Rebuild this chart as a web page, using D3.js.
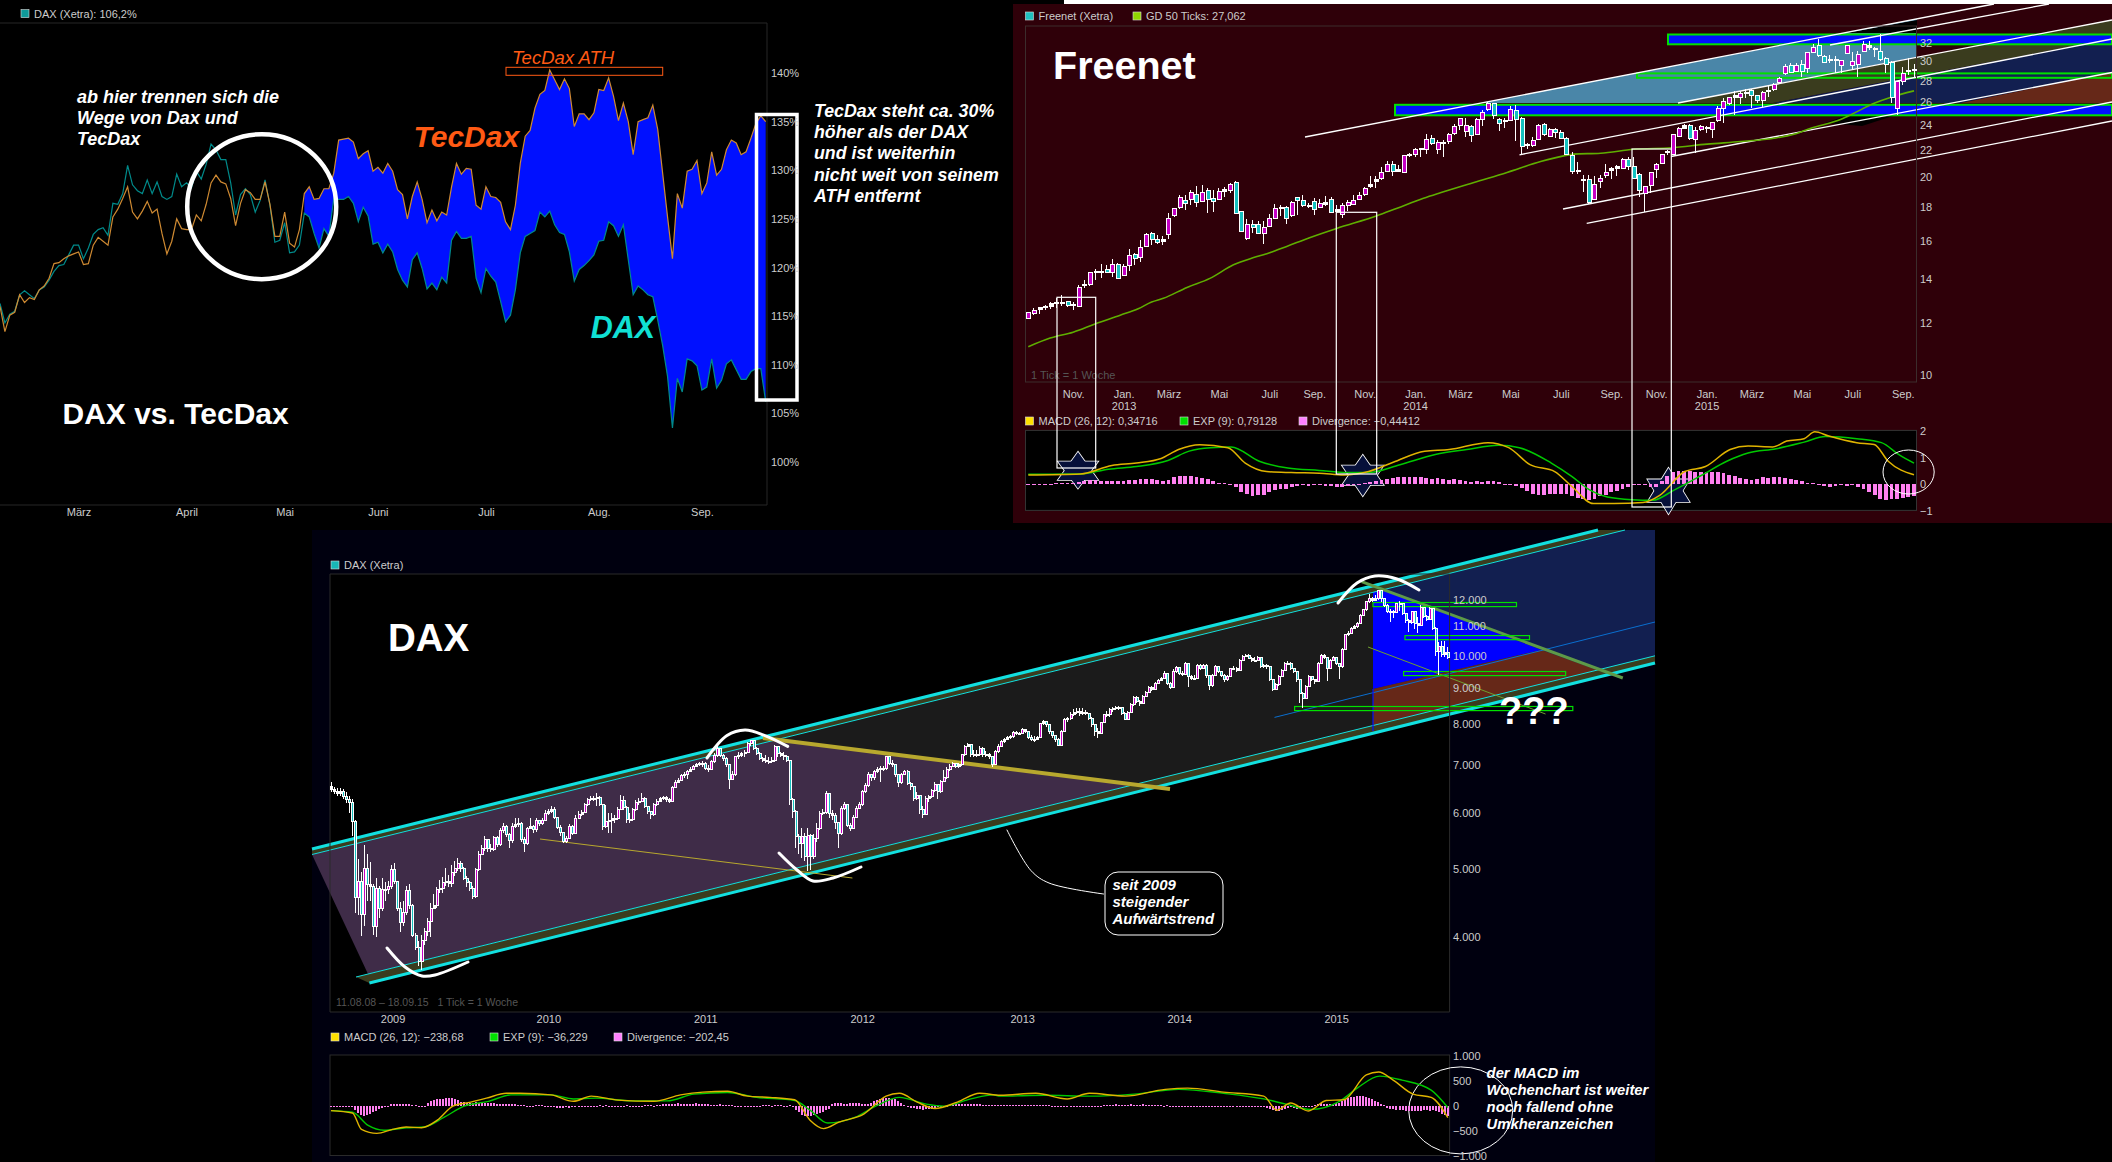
<!DOCTYPE html>
<html><head><meta charset="utf-8">
<style>html,body{margin:0;padding:0;background:#000;overflow:hidden}svg{display:block}text{font-family:"Liberation Sans",Arial,sans-serif;white-space:pre}</style>
<script src="https://d3js.org/d3.v7.min.js"></script></head><body><script>
// ---------- DAX vs TecDax (percent, daily) ----------
const tecdaxPct=[116.0,113.4,115.1,115.4,117.2,116.4,116.9,116.7,117.7,118.1,118.9,120.4,120.5,120.9,121.2,121.4,121.6,120.3,120.4,122.3,123.1,122.7,122.3,125.2,126.0,127.1,128.3,125.7,125.0,125.8,126.8,125.6,126.0,123.5,121.4,122.7,125.0,124.0,123.9,123.9,125.4,124.8,126.5,128.7,129.5,128.8,128.6,127.1,124.3,126.6,128.0,127.7,127.0,127.0,128.8,126.5,123.2,123.2,125.7,122.5,122.1,123.9,127.6,128.3,127.0,127.1,128.1,128.1,129.7,133.1,133.2,133.3,132.9,131.2,131.7,132.0,129.9,130.3,
129.7,130.7,129.9,128.0,127.5,125.0,127.3,128.8,127.0,124.6,125.9,124.8,125.7,125.4,128.3,130.7,129.6,130.2,130.1,126.4,126.0,128.3,127.3,127.2,126.7,124.7,123.9,126.4,130.7,133.5,134.1,136.4,137.8,138.2,140.3,139.3,138.3,139.4,138.4,134.5,135.8,135.8,135.2,135.9,138.3,138.2,139.5,137.6,135.1,136.9,135.0,131.6,135.0,135.2,135.4,136.7,134.2,129.7,125.2,120.9,127.6,126.1,129.9,130.1,131.0,127.6,128.7,131.9,129.5,130.1,132.1,133.1,132.8,131.6,131.9,133.3,134.8,135.6,135.0];
const daxPct=[116.3,114.3,115.2,115.5,117.2,117.6,117.2,116.8,117.7,118.0,118.7,119.6,120.2,120.3,121.3,122.3,122.3,120.9,122.0,123.4,123.9,124.1,123.3,126.6,126.5,127.6,130.5,128.5,127.9,127.6,129.0,127.6,128.8,127.3,127.0,127.3,129.6,128.3,128.7,128.2,129.9,129.1,130.6,132.7,132.1,131.1,131.1,128.7,125.4,127.5,128.1,127.5,125.7,126.9,129.0,126.4,122.6,122.8,124.6,121.5,121.6,122.3,125.6,125.2,123.5,122.0,124.0,123.2,127.1,127.0,127.0,127.3,126.6,124.7,126.2,125.3,122.4,122.6,
121.5,122.4,121.6,119.8,118.7,118.0,120.8,121.5,119.9,117.8,118.4,117.7,119.0,118.4,122.8,123.7,123.0,123.0,123.2,118.9,117.4,119.9,119.1,118.5,116.5,114.4,115.1,117.7,121.5,123.2,123.5,123.8,125.7,125.2,125.8,124.4,123.6,123.4,121.6,118.6,119.8,120.2,120.7,121.3,122.7,122.8,124.7,124.3,123.2,124.4,120.8,117.2,118.1,117.7,117.2,117.0,114.6,112.0,108.8,103.5,108.6,107.2,110.6,110.4,109.9,107.4,107.7,110.6,107.6,108.4,110.1,110.5,109.5,108.5,108.5,109.3,109.6,109.6,106.2];
const pctTicks=[100,105,110,115,120,125,130,135,140];
const pctMonthIdx=[16,38,58,77,99,122,143];
const pctMonths=["März","April","Mai","Juni","Juli","Aug.","Sep."];

// ---------- Freenet weekly candles ----------
const frOpen=[12.21,12.39,12.56,12.67,12.73,12.86,12.86,12.94,12.76,12.73,13.68,13.75,14.32,14.36,14.49,14.32,14.75,14.19,14.69,15.27,15.11,15.71,16.44,16.08,15.98,16.38,17.51,18.00,18.45,18.51,18.83,18.38,19.07,18.57,18.51,19.02,19.09,19.63,17.73,16.15,16.94,16.94,16.40,16.83,17.33,17.96,18.00,17.47,18.62,18.43,18.06,18.38,18.00,18.18,18.51,17.76,17.55,18.11,18.18,18.51,18.85,19.35,19.70,19.93,20.43,20.93,20.55,20.36,21.60,21.68,22.05,22.05,22.90,22.00,22.50,
22.66,23.27,23.95,23.46,23.87,23.22,24.50,25.32,25.85,24.45,24.40,24.40,25.29,24.60,22.34,22.37,22.84,24.04,23.08,23.65,23.41,22.92,21.58,20.45,19.80,19.86,18.51,19.72,20.14,20.50,20.60,20.64,21.30,20.76,20.21,18.89,19.42,20.52,21.00,21.85,21.68,23.05,23.74,23.98,22.84,23.65,23.70,23.60,24.36,25.47,25.91,26.46,26.46,26.86,27.08,26.65,26.12,27.05,27.15,27.84,28.76,29.56,29.00,29.70,29.28,30.96,31.70,30.50,30.10,30.10,29.55,30.85,29.55,29.70,31.03,31.70,31.27,31.03,30.30,29.90,25.40,28.00,29.00,29.07];
const frClose=[12.43,12.55,12.67,12.71,12.84,12.89,12.89,12.77,12.79,13.60,13.71,14.32,14.36,14.39,14.34,14.75,14.03,14.64,15.22,15.05,15.65,16.38,16.10,15.93,16.10,17.33,17.94,18.64,18.26,18.96,18.29,18.94,18.51,18.38,19.02,19.16,19.47,17.63,16.56,16.94,16.78,16.42,16.75,17.31,17.92,18.00,17.33,18.32,18.43,18.11,18.12,17.86,18.22,18.29,17.69,17.86,18.12,18.29,18.43,18.77,19.23,19.51,19.86,20.36,20.90,20.40,20.40,21.58,21.65,22.05,22.08,22.84,22.53,22.58,22.55,
23.19,23.92,24.53,23.95,23.14,24.50,25.12,25.85,24.80,24.15,24.27,25.32,24.50,22.26,22.40,22.76,23.95,23.19,23.65,23.38,22.92,21.63,20.43,20.50,19.84,18.30,19.50,19.91,20.33,20.62,20.74,21.30,20.76,19.93,19.07,19.33,20.33,20.93,21.68,21.90,23.19,23.74,23.93,22.92,23.55,23.87,23.76,24.22,25.47,26.06,26.46,26.62,26.77,26.92,26.65,26.12,26.89,27.12,27.64,28.30,29.45,28.87,29.56,29.00,30.93,31.50,30.58,29.90,30.20,30.20,30.10,31.70,30.00,30.70,31.78,31.45,31.35,30.15,29.73,26.46,27.93,28.76,29.07,29.15];
const frHigh=[12.46,12.65,12.70,12.79,12.90,13.11,13.24,12.97,12.90,13.71,13.95,14.37,14.49,14.75,14.69,15.00,14.80,14.75,15.55,15.33,16.06,16.42,16.48,16.35,16.25,17.63,17.98,18.77,18.79,19.12,19.40,19.47,19.23,19.12,19.23,19.35,19.58,19.70,17.78,17.27,17.22,17.18,17.18,17.59,18.20,18.14,18.08,18.40,18.68,18.79,18.24,18.57,18.51,18.74,18.68,18.14,18.29,18.43,18.77,18.98,19.30,20.05,20.10,20.69,21.13,21.13,20.88,21.63,21.75,22.18,22.13,23.26,23.19,22.79,22.79,
23.38,24.10,24.60,24.60,24.00,24.60,25.32,26.06,25.91,24.60,24.57,25.62,25.76,24.65,22.53,23.00,24.06,24.15,23.74,23.74,23.60,23.00,21.88,21.12,20.16,20.16,20.09,20.16,20.95,20.76,20.86,21.38,21.45,21.45,20.29,19.38,20.40,21.05,21.68,22.00,23.25,23.83,24.10,24.10,23.87,24.00,23.92,24.30,25.68,26.35,26.52,27.05,27.00,27.20,27.20,26.70,27.00,27.64,27.78,28.43,29.70,29.80,29.80,30.10,31.00,31.90,32.50,30.70,30.70,30.60,30.20,31.80,31.00,31.15,32.25,32.25,31.60,33.00,30.44,30.00,28.03,29.40,30.33,29.70];
const frLow=[12.19,12.36,12.39,12.57,12.61,12.64,12.74,12.71,12.57,12.67,13.56,13.67,13.95,14.07,14.32,14.12,13.98,14.15,14.42,14.70,14.88,15.65,15.75,15.84,15.75,16.13,17.39,17.88,17.84,18.14,18.00,18.32,17.63,17.73,18.43,18.68,18.94,17.57,16.52,16.02,16.42,16.38,15.84,16.78,17.31,17.47,16.98,17.39,17.53,18.04,17.94,17.53,17.94,18.08,17.63,17.69,17.36,17.78,18.14,18.43,18.72,19.23,19.28,19.81,20.36,20.10,20.33,20.33,21.50,21.50,21.45,21.70,22.40,21.70,21.50,
22.47,23.19,23.60,23.05,22.66,23.16,23.93,25.26,24.56,23.55,23.74,24.36,22.74,21.63,22.05,22.26,22.79,23.14,23.00,22.92,22.84,21.58,20.21,20.21,19.00,18.19,18.47,19.23,19.93,19.86,20.05,20.57,20.52,19.90,18.68,17.69,18.94,19.93,20.95,21.63,21.63,23.00,23.68,22.79,21.75,23.55,23.33,22.92,24.30,24.15,25.76,24.88,25.82,26.37,25.47,25.91,25.56,26.50,27.05,27.78,28.60,28.76,28.93,28.43,28.83,30.90,30.50,29.80,29.80,28.83,28.83,30.78,29.10,28.43,30.96,31.20,30.50,30.00,28.76,25.97,24.88,27.60,28.60,28.43];
const gd50Idx=[0,3.9,8,12,16.4,19.6,22,24.1,28.3,32.4,36.6,40.2,43.2,46.1,50.3,55,62.2,65.8,70.5,73.5,79.5,85.4,91.4,95.5,97.3,102.1,108,114.6,121.1,127.1,133,136.6,139.6,145,147.3,150.9,153.9,158];
const gd50Val=[11.04,11.38,11.62,11.97,12.33,12.61,12.91,13.08,13.59,14.03,14.71,15.09,15.36,15.69,16.19,16.71,17.47,17.94,18.57,18.93,19.63,20.33,21.12,21.55,21.68,21.75,22.05,22.17,22.45,22.66,22.92,23.24,23.74,24.50,25.03,25.91,26.46,27.06];
const frTicks=[10,12,14,16,18,20,22,24,26,28,30,32];
const frMonthIdx=[8,17,25,34,43,51,60,69,77,86,95,104,112,121,129,138,147,156];
const frMonths=["Nov.","Jan.","März","Mai","Juli","Sep.","Nov.","Jan.","März","Mai","Juli","Sep.","Nov.","Jan.","März","Mai","Juli","Sep."];
const frYearIdx=[17,69,121];
const frYears=["2013","2014","2015"];
const frMacdIdx=[0,9.3,14.9,19.3,23.7,26.8,30.6,35.6,38.7,42.5,46.9,51.9,56.3,60.7,65.1,70.7,75.1,82,85.7,89.5,93.9,97,100.8,104.5,109.6,112.7,117.1,120.8,125.2,128.4,132.8,135.3,138.4,140.3,142.8,147.8,150.9,153.4,158];
const frMacdVal=[.34,.38,.70,.79,.96,1.30,1.48,1.37,.79,.47,.43,.41,.34,.47,.82,1.24,1.30,1.56,1.37,.73,.47,-.10,-.74,-.74,-.70,-.42,.47,.66,1.30,1.43,1.40,1.62,1.71,1.97,1.81,1.56,1.49,.86,.35];
const frExpIdx=[0,9.3,14.3,19.3,24.9,28.7,32.5,36.2,41.2,46.3,51.9,56.9,60.7,66.3,72.6,78.2,83.9,87.6,93.3,97,100.2,103.3,107.7,111.4,115.2,120.2,124.6,128.4,133.4,138.4,142.2,147.8,152.2,155.3,158];
const frExpVal=[.37,.38,.56,.66,.89,1.24,1.37,1.40,.86,.60,.51,.43,.43,.73,1.11,1.30,1.46,1.37,.79,.28,-.23,-.49,-.59,-.61,-.23,.34,.86,1.17,1.33,1.58,1.79,1.71,1.56,1.11,.79];
const frDiv=[0,.01,0,0,.01,.02,.03,.03,.05,.08,.12,.15,.14,.13,.1,.1,.1,.12,.15,.15,.17,.17,.17,.15,.13,.15,.25,.3,.3,.3,.27,.22,.18,.1,.03,.05,-.02,-.12,-.3,-.38,-.45,-.42,-.4,-.3,-.22,-.2,-.18,-.1,-.08,-.05,-.06,-.05,-.05,-.07,-.08,-.1,-.1,-.08,-.05,0,.02,.06,.1,.15,.2,.22,.25,.25,.27,.27,.25,.22,.2,.22,.18,.15,.18,.14,.12,.08,.1,.08,.1,.12,.06,-.02,-.05,-.08,-.15,-.28,-.38,-.43,-.42,-.38,-.36,-.36,-.38,-.45,-.52,-.58,-.6,-.55,-.45,-.4,-.32,-.25,-.2,-.1,-.05,-.03,-.02,-.1,-.12,.1,.3,.45,.5,.5,.48,.45,.45,.45,.45,.45,.42,.35,.3,.22,.18,.15,.2,.25,.22,.25,.25,.22,.18,.15,.1,.05,.02,-.05,-.08,-.12,-.06,-.05,-.08,-.05,-.1,-.2,-.3,-.4,-.55,-.6,-.58,-.55,-.52,-.5,-.44];
const frMacdTicks=[-1,0,1,2];

// ---------- DAX weekly candles ----------
const daxFirstOpen=6520;
const daxClose=[6470,6425,6390,6425,6325,6255,6200,5830,4550,4790,4300,5000,4740,4715,4140,4690,4395,4675,4665,4715,4985,4790,4385,4190,4335,4655,4430,4025,3860,3690,3955,4075,4210,4395,4430,4675,4690,4780,4785,4760,4930,5000,5085,5000,4845,4770,4690,4565,4985,5240,5345,5490,5330,5320,5535,5400,5655,5735,5580,5470,5735,5765,5785,5500,5430,5700,5735,5675,5840,5785,5850,5975,6020,6065,5905,5715,5620,5460,5520,5735,5600,5890,5965,6000,6150,6255,6290,6290,6305,6150,5735,5830,5850,5875,5875,6065,6235,6105,5860,5860,6050,6200,6220,6290,6120,6015,5965,6150,6220,6270,6305,6255,6220,6515,6615,6660,6765,6785,6860,6910,6970,7025,7040,
7040,6930,6895,7075,7225,7380,7225,7150,7005,6690,6785,7190,7225,7265,7300,7515,7580,7400,7280,7150,7100,7075,7075,7100,7435,7265,7220,7190,7115,6250,6015,5550,5430,5550,5205,5575,5205,5515,5690,5980,6000,6380,5980,5950,5800,5600,6085,6155,5755,5695,5895,6085,6155,6425,6545,6785,6715,6860,6895,6930,6930,7190,7040,7005,6785,6610,6785,6860,6595,6530,6280,6350,6050,5970,6290,6330,6445,6565,6425,6635,6715,6895,6970,7040,6970,7005,7240,7440,7480,7240,7240,7240,7400,7240,7240,7200,7005,7310,7440,7555,7610,7660,7680,7790,7770,7770,7870,7810,7670,7605,7605,7650,8005,8065,7980,7810,7700,7605,7475,7810,8110,8150,8250,8300,8350,
8290,8310,8275,8160,7980,7810,7770,8040,8245,8245,8380,8425,8450,8450,8290,8130,8310,8525,8735,8620,8565,8760,8870,9020,8960,9140,9220,9290,9440,9140,9020,9490,9620,9440,9420,9750,9340,9290,9290,9700,9590,9700,9360,9060,9390,9650,9490,9390,9240,9340,9590,9590,9540,9860,9985,10020,9920,9850,9850,9950,9650,9670,9650,9240,8960,9090,9340,9540,9750,9750,9590,9490,9240,8850,8710,9040,9340,9240,9190,9750,10020,9950,9590,9860,9950,9740,9650,10210,10700,10760,10930,10990,11110,11410,11610,11920,12050,11960,12050,12350,12050,11790,11530,11530,11510,11850,11850,11470,11230,11150,11550,11110,11050,11700,11370,11250,11660,10930,10130,10298,10040,10120,9950];
const daxHigh=[6620,6530,6500,6500,6480,6420,6330,6280,5850,5150,4950,5400,5250,5100,4750,4850,4730,4850,4780,4800,5060,5090,4800,4490,4500,4720,4760,4450,4050,3950,4030,4120,4260,4470,4600,4700,4820,4860,5010,4900,5050,5130,5180,5130,5030,4880,4800,4720,5010,5300,5400,5560,5510,5420,5560,5560,5700,5790,5770,5610,5790,5900,5900,5820,5540,5730,5900,5770,5890,5860,5900,6040,6070,6120,6100,5920,5760,5640,5560,5780,5760,5950,6020,6050,6180,6300,6340,6340,6400,6330,6170,6150,6000,6000,5950,6100,6350,6330,6120,6000,6080,6250,6300,6400,6310,6130,6030,6180,6280,6310,6340,6340,6290,6550,6670,6720,6800,6850,6900,6960,7010,7060,7080,
7100,7080,7000,7130,7280,7440,7400,7250,7180,7030,6860,7220,7300,7310,7350,7560,7600,7570,7420,7300,7200,7230,7200,7200,7480,7450,7310,7300,7240,7130,6290,6050,5600,5700,5620,5700,5600,5600,5800,6030,6060,6430,6400,6050,6000,5820,6130,6200,6170,5800,5950,6130,6200,6450,6600,6840,6800,6900,6950,6980,6990,7200,7200,7130,7010,6800,6830,6900,6880,6620,6550,6420,6360,6120,6330,6360,6470,6620,6580,6680,6900,6950,7020,7080,7060,7050,7260,7480,7530,7500,7350,7350,7440,7420,7320,7290,7210,7350,7490,7610,7650,7700,7730,7830,7820,7810,7900,7880,7830,7720,7700,7700,8040,8120,8080,7990,7830,7720,7640,7850,8150,8200,8330,8400,8420,
8420,8430,8390,8290,8190,8000,7900,8060,8280,8350,8420,8470,8490,8490,8470,8320,8340,8560,8780,8770,8650,8800,8900,9070,9060,9180,9270,9340,9520,9460,9170,9560,9680,9640,9500,9800,9770,9380,9400,9740,9720,9740,9720,9380,9420,9690,9660,9510,9410,9380,9620,9660,9630,9890,10030,10060,10040,9960,9950,9990,9970,9740,9730,9670,9260,9150,9380,9580,9790,9830,9800,9610,9520,9260,8870,9090,9380,9370,9280,9800,10050,10060,9970,9890,9990,9970,9780,10240,10740,10820,10980,11040,11170,11450,11650,11960,12220,12120,12200,12390,12400,12070,11820,11640,11610,11880,11930,11860,11490,11280,11580,11560,11350,11800,11720,11400,11700,11680,10980,10450,10480,10500,10300];
const daxLow=[6420,6380,6340,6340,6260,6180,6000,5550,4330,4300,4015,4150,4500,4500,4020,4000,4250,4350,4500,4600,4680,4750,4350,4060,4150,4300,4380,4000,3830,3640,3590,3900,4010,4000,4380,4400,4620,4620,4730,4700,4700,4880,4960,4950,4810,4700,4640,4520,4540,4960,5220,5300,5280,5270,5300,5360,5380,5620,5540,5350,5440,5700,5720,5450,5280,5400,5680,5620,5640,5740,5760,5830,5960,6000,5870,5680,5560,5430,5430,5500,5570,5590,5880,5940,5990,6130,6230,6220,6130,6120,5660,5700,5620,5620,5800,5850,6050,6050,5800,5800,5840,6030,6150,6200,6080,5970,5880,5930,6130,6200,6240,6210,6180,6210,6490,6600,6640,6710,6700,6840,6910,6950,6990,
6970,6880,6850,6880,7050,7200,7180,7100,6950,6470,6660,6760,7150,7180,7200,7280,7450,7350,7240,7120,7080,7040,7030,7060,7080,7200,7180,7120,7080,6150,5900,5350,5250,5180,5120,4960,4980,5150,5450,5660,5950,5980,5900,5850,5680,5350,5580,6050,5720,5650,5680,5890,6060,6130,6400,6530,6650,6680,6830,6620,6870,6900,7000,6950,6730,6530,6580,6770,6560,6450,6230,6250,5970,5900,5960,6200,6300,6420,6260,6400,6650,6700,6860,6960,6940,6930,6980,7220,7420,7200,7200,7190,7220,7200,7180,7150,6950,7000,7290,7420,7530,7590,7620,7650,7720,7720,7740,7770,7630,7570,7560,7590,7640,7970,7920,7760,7640,7560,7440,7450,7790,8060,8100,8220,8260,
8210,8230,8230,8120,7920,7690,7640,7750,8030,8200,8200,8330,8380,8390,8250,8100,8100,8290,8480,8580,8480,8540,8740,8850,8920,8940,9120,9200,9270,9100,8970,9000,9460,9400,9350,9400,9020,9240,9240,9270,9550,9570,9300,8950,9040,9370,9440,9330,9180,9220,9320,9540,9480,9520,9840,9950,9880,9810,9800,9830,9610,9620,9580,9200,8910,8930,9060,9320,9520,9690,9550,9440,9190,8570,8420,8690,9020,9200,9130,9170,9730,9880,9200,9570,9820,9700,9280,9620,10180,10670,10740,10900,10960,11090,11380,11580,11880,11900,11930,11980,11900,11720,11480,11150,11300,11480,11570,11430,11140,10800,11090,10900,10780,11030,11300,11180,11230,10880,10000,9400,9960,9960,9880];
const daxTicks=[4000,5000,6000,7000,8000,9000,10000,11000,12000];
const daxYearIdx=[20.4,72,124,176,229,281,333];
const daxYears=["2009","2010","2011","2012","2013","2014","2015"];
const daxMacdIdx=[0,7.1,10.1,15.2,20.4,24.9,30,35.2,40.4,46.3,51.5,58.1,62.6,72.9,80.3,86.2,95.1,107,115.8,123.2,131.4,138,145.4,153.6,158.7,163.2,168.3,176.5,183.9,188.3,194.2,200.1,207.5,214.9,221.7,233.5,243.9,251.3,263.1,276.4,283.8,295.7,309,313.4,317.9,323.8,329.7,335.6,343,347.1,351.9,358.5,364.5,370];
const daxMacdVal=[-97,-145,-476,-556,-476,-427,-443,-290,-8,73,153,250,250,218,89,193,113,89,218,274,290,193,169,121,-290,-459,-330,-169,193,250,73,-56,73,250,210,250,137,250,193,330,355,274,193,-89,56,-105,105,121,621,677,516,234,169,-238];
const daxExpIdx=[0,7.1,12.3,17.5,24.9,30.8,37.4,44.1,52.2,59.6,72.9,80.3,87.7,99.6,111.4,120.3,131.4,141,153.6,158.7,164.6,173.5,180.9,188.3,197.2,203.1,212,219.4,221.7,236.5,251.3,266.1,280.9,295.7,309,316.4,324.5,334.1,340,347.4,354.8,364.5,370];
const daxExpVal=[-97,-129,-395,-492,-443,-427,-234,-8,89,218,218,137,153,97,97,234,266,169,105,-89,-347,-234,8,169,32,-8,137,218,193,210,193,234,330,250,137,32,-73,89,355,596,516,314,-36];
const daxDiv=[0,-5,-5,-10,-10,-10,-15,-30,-90,-150,-190,-200,-190,-170,-130,-100,-70,-50,-25,-10,30,40,45,40,35,40,35,25,15,5,-10,-5,60,90,110,130,140,145,155,150,150,140,110,80,70,60,50,60,70,60,55,50,60,60,55,45,40,35,30,35,40,30,20,15,10,5,-5,5,10,15,10,5,0,-20,-35,-45,-50,-45,-35,-40,-30,-20,-15,-10,-15,-10,-5,0,5,10,5,10,-5,-10,-15,-10,-5,5,10,5,-5,-10,-5,5,10,15,10,5,10,20,30,40,45,40,45,50,45,40,35,40,45,50,45,35,35,30,25,20,25,30,25,20,15,10,-20,-30,-35,-30,-25,-20,-25,-15,-5,10,15,10,5,10,15,10,5,5,10,-30,-80,-130,-180,-200,-210,-200,-190,-170,-150,-120,-90,-60,30,50,55,50,45,40,50,55,60,50,40,30,40,60,90,120,140,155,160,155,145,130,100,60,10,-20,-40,-55,-65,-75,-80,-75,-70,-60,-50,-35,-25,-15,5,15,25,30,35,30,40,45,40,30,30,35,25,15,10,15,20,15,10,15,15,20,10,15,10,10,10,15,20,15,10,15,10,15,10,5,5,-10,-15,-20,-15,-20,-25,-20,-15,-20,-25,-15,-20,-15,-10,-15,10,15,20,25,30,25,20,15,25,30,25,20,25,30,25,20,15,20,15,10,5,10,-10,-15,-20,-25,-20,-15,-20,-25,-20,-15,-10,-15,-20,-25,-30,-25,-20,-15,-20,-15,-10,-15,-10,-15,-10,-5,-10,-15,-20,-25,-30,-35,-40,-70,-90,-110,-100,-90,-60,-40,-30,-50,-60,-40,-30,-20,-10,0,20,40,50,45,35,40,45,50,60,90,120,150,170,180,190,195,190,180,160,130,100,70,30,10,-40,-60,-75,-80,-85,-90,-100,-110,-115,-110,-105,-100,-90,-95,-100,-90,-100,-130,-160,-180,-202];
const daxMacdTicks=[-1000,-500,0,500,1000];
const daxOpen=daxClose.map((c,i)=>i?daxClose[i-1]:daxFirstOpen);

// ---------- page ----------
const W=2112,H=1162;
const svg=d3.select("body").append("svg").attr("width",W).attr("height",H).attr("viewBox",`0 0 ${W} ${H}`);
const rect=(g,x,y,w,h,fill,stroke,sw,rx)=>g.append("rect").attr("x",x).attr("y",y).attr("width",w).attr("height",h).attr("fill",fill||"none").attr("stroke",stroke||"none").attr("stroke-width",sw||1).attr("rx",rx||0);
const seg=(g,x1,y1,x2,y2,c,w)=>g.append("line").attr("x1",x1).attr("y1",y1).attr("x2",x2).attr("y2",y2).attr("stroke",c).attr("stroke-width",w||1);
const poly=(g,p,f)=>g.append("polygon").attr("points",p.join(" ")).attr("fill",f);
const txt=(g,x,y,s,o={})=>g.append("text").attr("x",x).attr("y",y).text(s).attr("fill",o.c||"#fff").attr("font-size",o.s||11).attr("font-weight",o.b?"bold":"normal").attr("font-style",o.i?"italic":"normal").attr("text-anchor",o.a||"start");
const curve=(g,p,c,w)=>g.append("path").attr("d",d3.line().curve(d3.curveCatmullRom)(p)).attr("fill","none").attr("stroke",c).attr("stroke-width",w).attr("stroke-linecap","round");
const ell=(g,cx,cy,rx,ry,c,w)=>g.append("ellipse").attr("cx",cx).attr("cy",cy).attr("rx",rx).attr("ry",ry).attr("fill","none").attr("stroke",c).attr("stroke-width",w);
const legend=(g,x,y,col,s)=>{rect(g,x,y-8,8,8,col,"#ddd",0.6);txt(g,x+13,y,s,{c:"#ccc",s:11});};
function styleAxis(sel,fs,col){sel.select(".domain").remove();sel.selectAll(".tick line").remove();sel.selectAll("text").attr("fill",col||"#ccc").attr("font-size",fs||11).attr("font-family",'"Liberation Sans",Arial,sans-serif');}
function yAxis(g,x,sc,ticks,fmt){g.append("g").attr("transform",`translate(${x},0)`).call(d3.axisRight(sc).tickValues(ticks).tickSize(0).tickPadding(0).tickFormat(fmt)).call(styleAxis);}
function xAxis(g,y,sc,idx,labels){g.append("g").attr("transform",`translate(0,${y})`).call(d3.axisBottom(sc).tickValues(idx).tickSize(0).tickPadding(0).tickFormat((d,i)=>labels[i])).call(styleAxis);}
const smooth=(xs,ys,x,y)=>d3.line().curve(d3.curveMonotoneX).x(i=>x(xs[i])).y(i=>y(ys[i]))(d3.range(xs.length));
function candles(g,x,y,O,Hi,Lo,C,bw,colUp,colDn){
  const cg=g.append("g").attr("shape-rendering","crispEdges");
  cg.selectAll("line").data(C).join("line").attr("x1",(d,i)=>x(i)).attr("x2",(d,i)=>x(i)).attr("y1",(d,i)=>y(Hi[i])).attr("y2",(d,i)=>y(Lo[i])).attr("stroke","#fff");
  cg.selectAll("rect").data(C).join("rect").attr("x",(d,i)=>Math.round(x(i)-bw/2)).attr("width",bw).attr("y",(d,i)=>y(Math.max(O[i],d))).attr("height",(d,i)=>Math.max(1,Math.abs(y(O[i])-y(d))))
    .attr("fill",(d,i)=>Math.abs(y(O[i])-y(d))<2.5?"#fff":d>=O[i]?colUp:colDn).attr("stroke","#fff");
}

// ===== Panel 1: DAX vs TecDax =====
const p1=svg.append("g");
const xP=d3.scaleLinear([0,156],[0,765.7]);
const yP=d3.scaleLinear([100,140],[462,73]);
seg(p1,0,23,767,23,"#262626");seg(p1,767,23,767,505,"#262626");seg(p1,0,505,767,505,"#262626");
const areaStart=62;
p1.append("path").datum(tecdaxPct.map((d,i)=>i).slice(areaStart)).attr("fill","#0010ff")
  .attr("d",d3.area().x(i=>xP(i)).y0(i=>yP(daxPct[i])).y1(i=>yP(tecdaxPct[i])));
p1.append("path").attr("d",d3.line().x((d,i)=>xP(i)).y(d=>yP(d))(daxPct)).attr("fill","none").attr("stroke","#008a8a").attr("stroke-width",1.2);
p1.append("path").attr("d",d3.line().x((d,i)=>xP(i)).y(d=>yP(d))(tecdaxPct)).attr("fill","none").attr("stroke","#cf8a32").attr("stroke-width",1.2);
ell(p1,261.7,206.7,74.5,72.5,"#fff",4.5);
rect(p1,756.5,114.5,40.5,285.5,"none","#fff",3.5);
rect(p1,506,67.3,156.7,8,"none","#ff5a14",1);
yAxis(p1,771,yP,pctTicks,d=>d+"%");
xAxis(p1,508,xP,pctMonthIdx,pctMonths);
legend(p1,21,17.6,"#0e9a9a","DAX (Xetra): 106,2%");
[["ab hier trennen sich die",103],["Wege von Dax und",124],["TecDax",145]].forEach(t=>txt(p1,77,t[1],t[0],{s:18,b:1,i:1}));
[["TecDax steht ca. 30%",117],["höher als der DAX",138],["und ist weiterhin",159],["nicht weit von seinem",180.5],["ATH entfernt",202]].forEach(t=>txt(p1,814,t[1],t[0],{s:17.8,b:1,i:1}));
txt(p1,413.5,147,"TecDax",{s:30,b:1,i:1,c:"#ff5a14"});
txt(p1,512,64,"TecDax ATH",{s:18.5,i:1,c:"#ff5a14"});
txt(p1,590.7,338,"DAX",{s:30.5,b:1,i:1,c:"#10e0d4"});
txt(p1,62.5,424,"DAX vs. TecDax",{s:30,b:1});

// ===== Panel 2: Freenet =====
const p2=svg.append("g");
const maroon="#2f0009";
rect(p2,1013,0,1099,523,maroon);
rect(p2,1064,0,1048,4,"#fff");
rect(p2,1013,0,51,4,"#000");
const xF=d3.scaleLinear([0,158],[1028.3,1914]);
const yF=d3.scaleLog([10,32],[375,43]);
const yFm=d3.scaleLinear([-1,2],[510.5,431]);
poly(p2,[[1481,103],[1917,19],[1917,57],[1678,103]],"#4a86a8");
poly(p2,[[1678,103],[2112,20],[2112,39],[1773,103]],"#3a3c1e");
poly(p2,[[1773,103],[2112,39],[2112,72.5],[1961,103]],"#121f50");
poly(p2,[[1961,103],[2112,72.5],[2112,103]],"#662818");
poly(p2,[[1845,116],[1893,116],[1862,126],[1825,123]],"#000");
poly(p2,[[1846,33],[1917,20],[1917,33]],"#000");
rect(p2,1668,34.5,444,9.8,"#0010ff","#00e000",2);
rect(p2,1395,104.8,717,10.5,"#0010ff","#00e000",2);
rect(p2,1637,73.4,475,4.4,"none","#00e000",2);
[[1305,137,1994,4],[1830,45,2049,4],[1678,103,2112,20],[1519.5,154.8,2112,39],[1671,156.5,2112,72.5],[1563,209,2112,102],[1586.7,223.3,2112,121]].forEach(l=>seg(p2,l[0],l[1],l[2],l[3],"#fff",1.3));
rect(p2,1025.5,26,891,356,"none","#3c2c2c",1);
p2.append("path").attr("d",smooth(gd50Idx,gd50Val,xF,yF)).attr("fill","none").attr("stroke","#5fae00").attr("stroke-width",1.6);
candles(p2,xF,yF,frOpen,frHigh,frLow,frClose,4,"#c400c4","#14c0c0");
yAxis(p2,1920,yF,frTicks,d=>d);
xAxis(p2,390,xF,frMonthIdx,frMonths);
xAxis(p2,402,xF,frYearIdx,frYears);
legend(p2,1025.5,20,"#20c0c0","Freenet (Xetra)");
legend(p2,1133,20,"#90d800","GD 50 Ticks: 27,062");
legend(p2,1025.5,425,"#ffe000","MACD (26, 12): 0,34716");
legend(p2,1180,425,"#00e000","EXP (9): 0,79128");
legend(p2,1299,425,"#ff80ff","Divergence: −0,44412");
txt(p2,1031,379,"1 Tick = 1 Woche",{c:"#555",s:11});
txt(p2,1053,79,"Freenet",{s:39.5,b:1});
rect(p2,1025.5,430.4,891,80,"#000","#333",1);
const star=(cx,upY,baseUp,downY,baseDn,hw)=>{const f="#06103a";
  const t=[[[cx,upY],[cx-hw,baseUp],[cx+hw,baseUp]],[[cx,downY],[cx-hw,baseDn],[cx+hw,baseDn]]];
  t.forEach(q=>p2.append("polygon").attr("points",q.join(" ")).attr("fill",f).attr("stroke","#fff").attr("stroke-width",1.6));
  t.forEach(q=>p2.append("polygon").attr("points",q.join(" ")).attr("fill",f));};
star(1078,452,480,488.5,461.5,20);star(1362.8,455,485,496,465.5,20.7);star(1668.5,468,502,514,479.4,21);
p2.append("g").attr("shape-rendering","crispEdges").selectAll("rect").data(frDiv).join("rect").attr("x",(d,i)=>xF(i)-1.9).attr("width",3.8).attr("y",d=>yFm(Math.max(0,d))).attr("height",d=>Math.max(1,Math.abs(yFm(d)-yFm(0)))).attr("fill","#ff80f0");
p2.append("path").attr("d",smooth(frExpIdx,frExpVal,xF,yFm)).attr("fill","none").attr("stroke","#00c800").attr("stroke-width",1.5);
p2.append("path").attr("d",smooth(frMacdIdx,frMacdVal,xF,yFm)).attr("fill","none").attr("stroke","#e0b400").attr("stroke-width",1.5);
yAxis(p2,1920,yFm,frMacdTicks,d=>d<0?"−"+(-d):d);
[[1057,297.3,1095.7,468],[1336.3,212.3,1376.7,474],[1632,149,1671.3,507]].forEach(r=>rect(p2,r[0],r[1],r[2]-r[0],r[3]-r[1],"none","#fff",1.2));
ell(p2,1908.6,472,25.6,22,"#fff",1);

// ===== Panel 3: DAX =====
const p3=svg.append("g");
rect(p3,312,530,1343,632,"#00000f");
rect(p3,330,574,1119.6,438,"#000");
const xD=d3.scaleLinear([0,370],[331,1447.8]);
const yD=d3.scaleLog([4000,12000],[937,599.7]);
const yDm=d3.scaleLinear([-1000,1000],[1155.5,1056]);
// channel shading
poly(p3,[[312,854.5],[775,740],[1134,784.5],[368,974]],"#3f2c48");
poly(p3,[[775,740],[1373,592.3],[1373,731],[1134,784.5]],"#1b1b1b");
poly(p3,[[1373,592.3],[1625,530],[1655,530],[1655,655.8],[1373,731]],"#121f50");
poly(p3,[[1373,586],[1541.5,650],[1373,689]],"#0000ff");
poly(p3,[[1373,689],[1541.5,650],[1602.7,672],[1373,731]],"#662818");
poly(p3,[[312,849],[1598,530],[1625,530],[312,854.5]],"#3a3c1e");
poly(p3,[[369.4,983],[1655,663],[1655,655.8],[356,977]],"#3a3c1e");
seg(p3,312,849,1598,530,"#12e0e0",3);
seg(p3,312,854.5,1625,530,"#12e0e0",1);
seg(p3,369.4,983,1655,663,"#12e0e0",3);
seg(p3,356,977,1655,655.8,"#12e0e0",1);
seg(p3,763,738,1170,789,"#b8a82e",4);
seg(p3,540,839,852.4,878,"#b8a82e",1);
seg(p3,1274.5,717.4,1655,622,"#0a6fd0",1);
seg(p3,1373,689,1373,731,"#0010ff",1.2);
seg(p3,1368,647,1545.5,714,"#6f9f30",1);
seg(p3,1361.6,581.6,1622.8,678,"#5e9a48",3);
[[1373,602.5,143.5],[1405,635.6,124.5],[1403.6,671.5,162],[1294.6,706.5,278.2]].forEach(r=>rect(p3,r[0],r[1],r[2],4.1,"none","#00e000",1.2));
seg(p3,1449.6,574,1449.6,1012,"#2a2a2a");seg(p3,330,574,1449.6,574,"#2a2a2a");seg(p3,330,574,330,1012,"#2a2a2a");seg(p3,330,1012,1449.6,1012,"#2a2a2a");
candles(p3,xD,yD,daxOpen,daxHigh,daxLow,daxClose,2,"#c400c4","#14c0c0");
const de=d3.formatLocale({thousands:".",grouping:[3],decimal:",",currency:["",""]}).format(",");
yAxis(p3,1453,yD,daxTicks,de);
xAxis(p3,1015,xD,daxYearIdx,daxYears);
curve(p3,[[387,948],[405,967],[422,976],[435,975],[468,962]],"#fff",3);
curve(p3,[[707,758],[727,735.6],[745,730],[765,735.6],[787.7,746.4]],"#fff",3);
curve(p3,[[779,853],[797,870],[813,881],[833,878],[861,867]],"#fff",3);
curve(p3,[[1338,603],[1357,583],[1375,576],[1397,579],[1419,590]],"#fff",3);
curve(p3,[[1007,830],[1031,870.6],[1049,883],[1103.6,894]],"#fff",1);
rect(p3,1105,872,118,63,"#000","#fff",1,13);
[["seit 2009",890],["steigender",907],["Aufwärtstrend",924]].forEach(t=>txt(p3,1112.5,t[1],t[0],{s:15,b:1,i:1}));
txt(p3,388,651,"DAX",{s:38.5,b:1});
txt(p3,1499,723.5,"???",{s:38,b:1});
legend(p3,331,569,"#17b8b8","DAX (Xetra)");
legend(p3,331,1041,"#ffe000","MACD (26, 12): −238,68");
legend(p3,490,1041,"#00e000","EXP (9): −36,229");
legend(p3,614,1041,"#ff80ff","Divergence: −202,45");
txt(p3,336,1005.5,"11.08.08 – 18.09.15   1 Tick = 1 Woche",{c:"#555",s:10.5});
// MACD panel
rect(p3,330,1055,1119.6,100.5,"#000","#2a2a2a",1);
ell(p3,1460.7,1110.4,52,43.5,"#fff",1);
p3.append("g").attr("shape-rendering","crispEdges").selectAll("rect").data(daxDiv).join("rect").attr("x",(d,i)=>xD(i)-1).attr("width",2).attr("y",d=>yDm(Math.max(0,d))).attr("height",d=>Math.max(1,Math.abs(yDm(d)-yDm(0)))).attr("fill","#ff80f0");
p3.append("path").attr("d",smooth(daxExpIdx,daxExpVal,xD,yDm)).attr("fill","none").attr("stroke","#00c800").attr("stroke-width",1.4);
p3.append("path").attr("d",smooth(daxMacdIdx,daxMacdVal,xD,yDm)).attr("fill","none").attr("stroke","#e0b400").attr("stroke-width",1.4);
yAxis(p3,1453,yDm,daxMacdTicks,de);
[["der MACD im",1078],["Wochenchart ist weiter",1095],["noch fallend ohne",1112],["Umkheranzeichen",1129]].forEach(t=>txt(p3,1486.6,t[1],t[0],{s:14.8,b:1,i:1}));
</script></body></html>
